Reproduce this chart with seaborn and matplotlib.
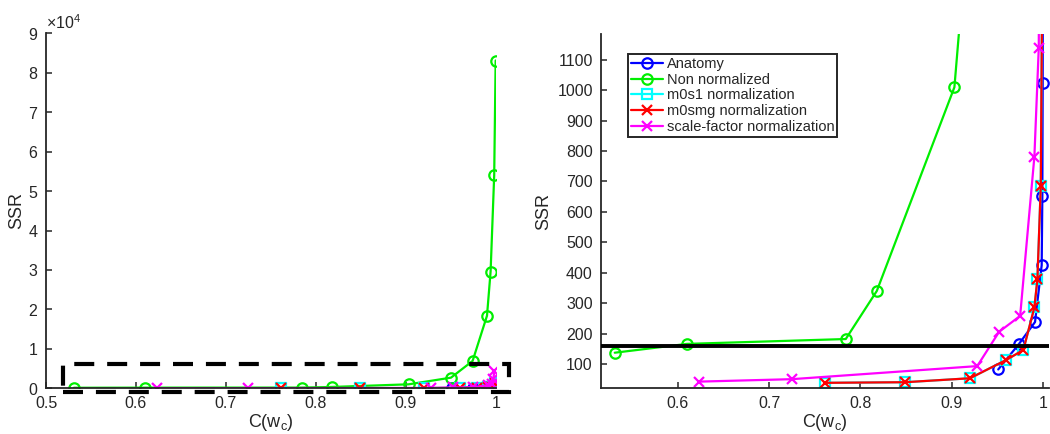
import matplotlib
matplotlib.use("Agg")
import matplotlib.pyplot as plt
from matplotlib.patches import Rectangle
from matplotlib.ticker import ScalarFormatter, FuncFormatter
import seaborn as sns

# ---- SSR versus C(w_c) for each normalization scheme ----
anatomy_c = [0.951, 0.974, 0.9913, 0.9986, 0.9993, 0.9997, 0.9999]
anatomy_ssr = [82, 167, 238, 425, 652, 1025, 1650]

nonnorm_c = [0.531, 0.610, 0.784, 0.818, 0.903, 0.950, 0.974, 0.990, 0.994, 0.998, 0.9996]
nonnorm_ssr = [137, 166, 182, 340, 1010, 2700, 6930, 18400, 29600, 54000, 83100]

m0s1_c = [0.761, 0.849, 0.920, 0.9596, 0.9785, 0.9906, 0.9939, 0.9976, 0.9990]
m0s1_ssr = [38, 40, 53, 113, 146, 286, 378, 685, 1300]

m0smg_c = [0.761, 0.849, 0.920, 0.9596, 0.9785, 0.9906, 0.9939, 0.9976, 0.9990]
m0smg_ssr = [38, 40, 53, 113, 146, 286, 378, 685, 1300]

scale_c = [0.6237, 0.7249, 0.928, 0.952, 0.975, 0.9906, 0.9954, 0.9970, 0.9982]
scale_ssr = [42, 50, 93, 206, 258, 782, 1140, 2400, 4400]

series_names = ["Anatomy", "Non normalized", "m0s1 normalization",
                "m0smg normalization", "scale-factor normalization"]
series_c = [anatomy_c, nonnorm_c, m0s1_c, m0smg_c, scale_c]
series_ssr = [anatomy_ssr, nonnorm_ssr, m0s1_ssr, m0smg_ssr, scale_ssr]
series_colors = ["#0000ff", "#00ee00", "#00ffff", "#ff0000", "#ff00ff"]
series_markers = ["o", "o", "s", "x", "x"]

# SSR threshold and the region enlarged in the right panel
ssr_threshold = 160
zoom_box = (0.519, 1.0144, -1000, 6100)   # x0, x1, y0, y1

left_xticks = [0.5, 0.6, 0.7, 0.8, 0.9, 1.0]
left_yticks = [0, 10000, 20000, 30000, 40000, 50000, 60000, 70000, 80000, 90000]
right_xticks = [0.6, 0.7, 0.8, 0.9, 1.0]
right_yticks = [100, 200, 300, 400, 500, 600, 700, 800, 900, 1000, 1100]

sns.set_style("ticks")
ink = "#262626"
plt.rcParams["font.family"] = ["Liberation Sans", "DejaVu Sans"]
plt.rcParams["mathtext.fontset"] = "custom"
plt.rcParams["mathtext.rm"] = "Liberation Sans"
plt.rcParams["mathtext.it"] = "Liberation Sans:italic"
plt.rcParams["axes.edgecolor"] = ink
plt.rcParams["text.color"] = ink
plt.rcParams["axes.labelcolor"] = ink

TICK_FS = 11.5
LABEL_FS = 13

fig = plt.figure(figsize=(10.5, 4.34), dpi=100)
ax_l = fig.add_axes([46 / 1050, 1 - 388.3 / 434, 450 / 1050, 355 / 434])
ax_r = fig.add_axes([600.5 / 1050, 1 - 388.3 / 434, 448.5 / 1050, 354.3 / 434])


def draw_series(ax, with_labels):
    for name, c, s, col, mk in zip(series_names, series_c, series_ssr,
                                   series_colors, series_markers):
        sns.lineplot(x=c, y=s, ax=ax, color=col, marker=mk, markersize=7.5,
                     markerfacecolor="none", markeredgecolor=col,
                     markeredgewidth=1.6, linewidth=1.6, errorbar=None,
                     label=name if with_labels else None, legend=False)


def style_axes(ax):
    sns.despine(ax=ax)
    for sp in ("left", "bottom"):
        ax.spines[sp].set_linewidth(1.3)
        ax.spines[sp].set_color(ink)
    ax.tick_params(direction="in", length=4, width=1.1, colors=ink,
                   labelsize=TICK_FS, pad=5.5)
    ax.set_xlabel("C(w$_{\\mathrm{c}}$)", fontsize=LABEL_FS, labelpad=1)
    ax.set_ylabel("SSR", fontsize=LABEL_FS)


fmt_plain = FuncFormatter(lambda v, p: f"{v:g}")

# ---- left panel: full range ----
draw_series(ax_l, False)
style_axes(ax_l)
ax_l.set_xlim(0.5, 1.0)
ax_l.set_ylim(0, 90000)
ax_l.set_xticks(left_xticks)
ax_l.xaxis.set_major_formatter(fmt_plain)
ax_l.set_yticks(left_yticks)
sf = ScalarFormatter(useMathText=True)
sf.set_powerlimits((0, 0))
ax_l.yaxis.set_major_formatter(sf)
ax_l.yaxis.get_offset_text().set_fontsize(TICK_FS)
ax_l.yaxis.labelpad = 2

x0, x1, y0, y1 = zoom_box
ax_l.add_patch(Rectangle((x0, y0), x1 - x0, y1 - y0, fill=False,
                         edgecolor="black", linewidth=3.0,
                         linestyle=(0, (4.8, 3.1)), clip_on=False, zorder=5))

# ---- right panel: enlarged low-SSR region ----
draw_series(ax_r, True)
style_axes(ax_r)
ax_r.set_xlim(0.5154, 1.0066)
ax_r.set_ylim(20, 1185)
ax_r.set_xticks(right_xticks)
ax_r.xaxis.set_major_formatter(fmt_plain)
ax_r.set_yticks(right_yticks)
ax_r.yaxis.set_major_formatter(fmt_plain)
ax_r.yaxis.labelpad = 4
ax_r.axhline(ssr_threshold, color="black", linewidth=2.8, zorder=6)

leg = ax_r.legend(loc="upper left", bbox_to_anchor=(0.0613, 0.9435),
                  borderaxespad=0, fontsize=10.5, frameon=True, fancybox=False,
                  handlelength=2.2, handletextpad=0.25, labelspacing=0.12,
                  borderpad=0.2, numpoints=1)
leg.get_frame().set_edgecolor(ink)
leg.get_frame().set_linewidth(1.4)
leg.get_frame().set_alpha(1)

fig.savefig("out.png", dpi=100)
